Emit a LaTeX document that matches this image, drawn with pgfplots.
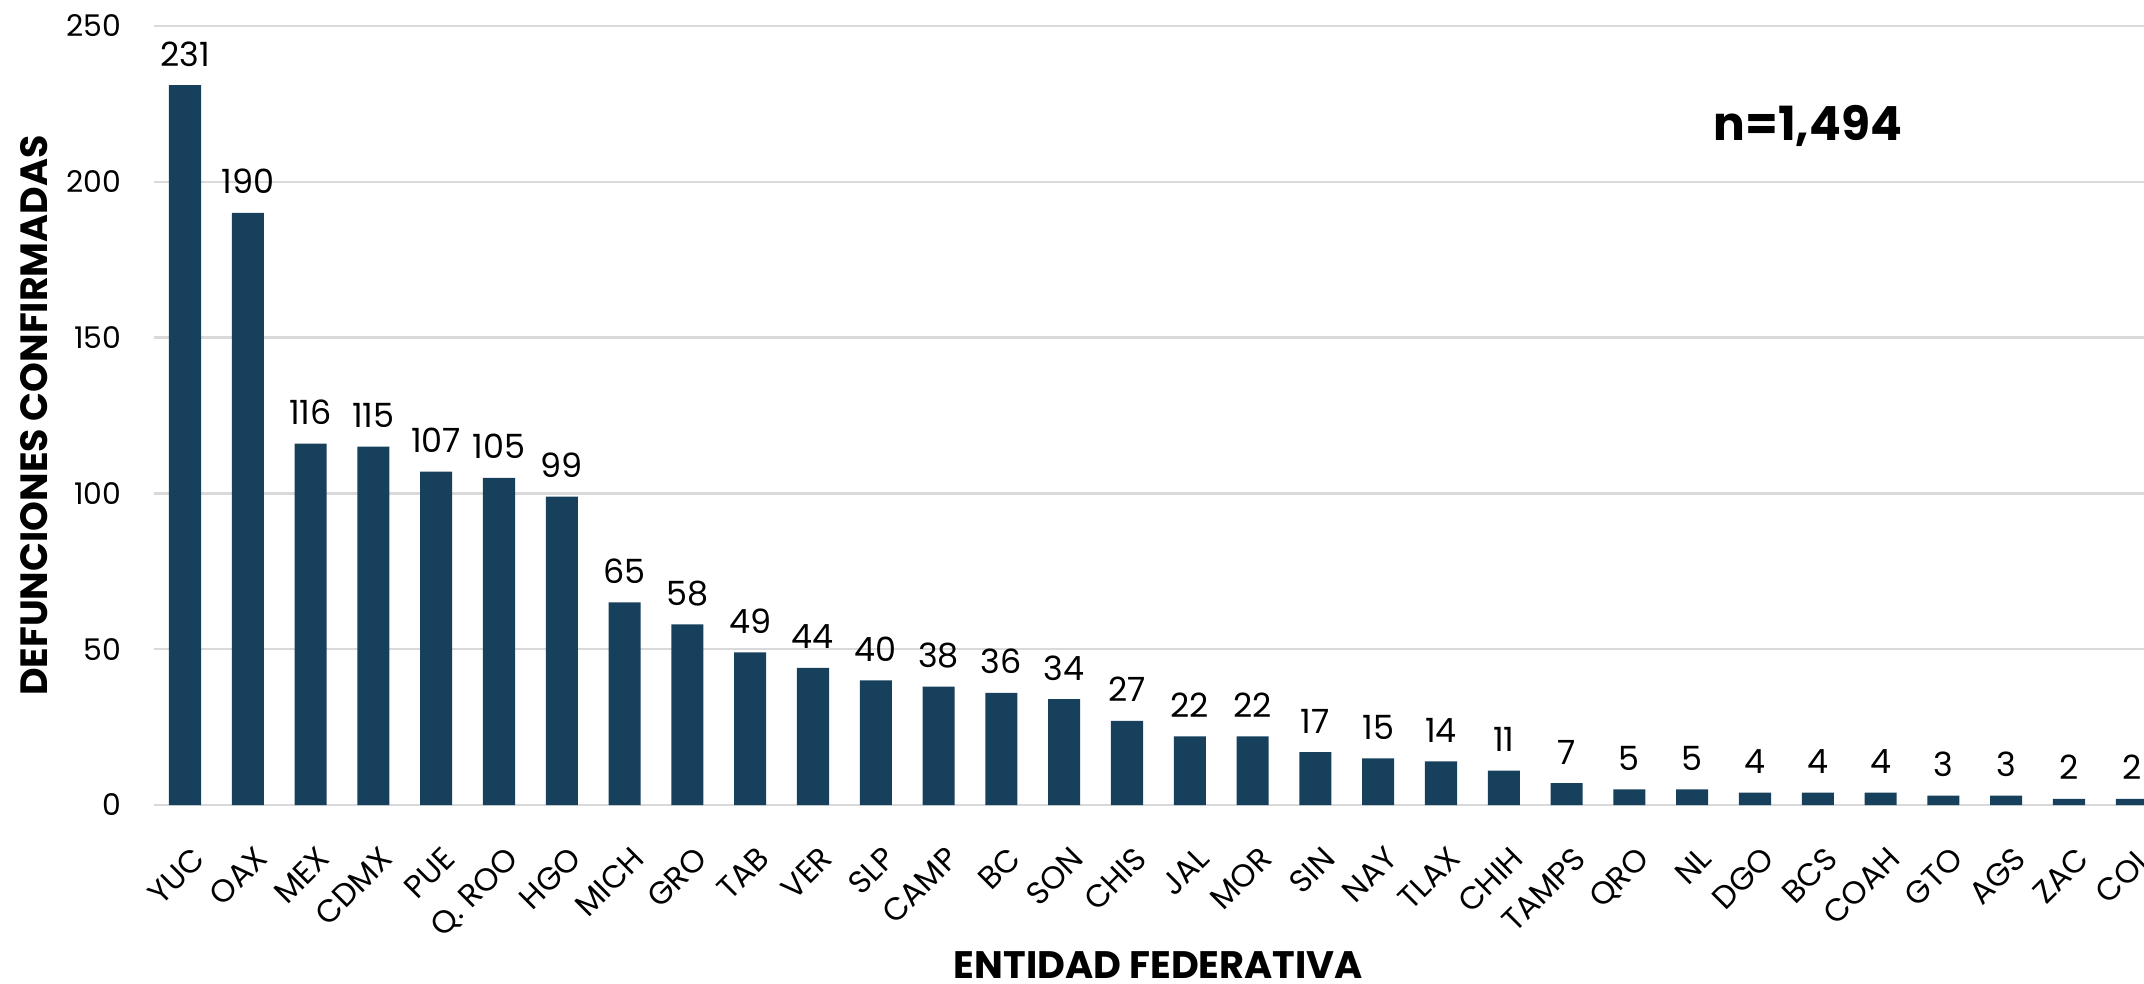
\documentclass[border=0pt]{standalone}
\usepackage{fontspec}
\setmainfont{Poppins}
\usepackage{pgfplots}
\pgfplotsset{compat=1.18}
\definecolor{barblue}{RGB}{23,64,92}
\definecolor{gridgray}{RGB}{217,217,217}
\begin{document}
\begin{tikzpicture}
\useasboundingbox (0,0) rectangle (21.44,9.83);
\clip (0,0) rectangle (21.44,9.83);
\begin{axis}[
  at={(1.536cm,1.78cm)}, anchor=south west,
  scale only axis, width=20.096cm, height=7.79cm,
  ybar, bar width=0.51,
  xmin=-0.5, xmax=31.5, ymin=0, ymax=250,
  enlargelimits=false,
  /pgf/number format/assume math mode=true,
  ytick={0,50,...,250},
  xtick={0,...,31},
  xticklabels={YUC,OAX,MEX,CDMX,PUE,Q. ROO,HGO,MICH,GRO,TAB,VER,SLP,CAMP,BC,SON,CHIS,JAL,MOR,SIN,NAY,TLAX,CHIH,TAMPS,QRO,NL,DGO,BCS,COAH,GTO,AGS,ZAC,COL},
  axis line style={draw=none},
  major tick length=0pt,
  ymajorgrids, grid style={gridgray, line width=0.7pt},
  yticklabel style={font=\fontsize{8.5}{10}\selectfont, xshift=-0.2cm},
  xticklabel style={font=\fontsize{9}{10}\selectfont, rotate=45, anchor=north east, xshift=-0.12cm, yshift=-0.2cm},
  ylabel={\textbf{DEFUNCIONES CONFIRMADAS}},
  ylabel style={at={(axis description cs:-0.0595,0.5)}, anchor=center, font=\fontsize{10.8}{12}\selectfont},
  xlabel={\textbf{ENTIDAD FEDERATIVA}},
  xlabel style={at={(axis description cs:0.5,-0.205)}, anchor=center, font=\fontsize{10.9}{12}\selectfont},
  nodes near coords,
  every node near coord/.append style={font=\fontsize{9.5}{11}\selectfont, anchor=base, yshift=0.19cm, text=black},
]
\addplot[fill=barblue, draw=none] coordinates {
  (0,231) (1,190) (2,116) (3,115) (4,107) (5,105) (6,99) (7,65)
  (8,58) (9,49) (10,44) (11,40) (12,38) (13,36) (14,34) (15,27)
  (16,22) (17,22) (18,17) (19,15) (20,14) (21,11) (22,7) (23,5)
  (24,5) (25,4) (26,4) (27,4) (28,3) (29,3) (30,2) (31,2)
};
\node[font=\fontsize{13.4}{16}\selectfont\bfseries] at (axis cs:25.84,218) {n=1,494};
\end{axis}
\end{tikzpicture}
\end{document}
